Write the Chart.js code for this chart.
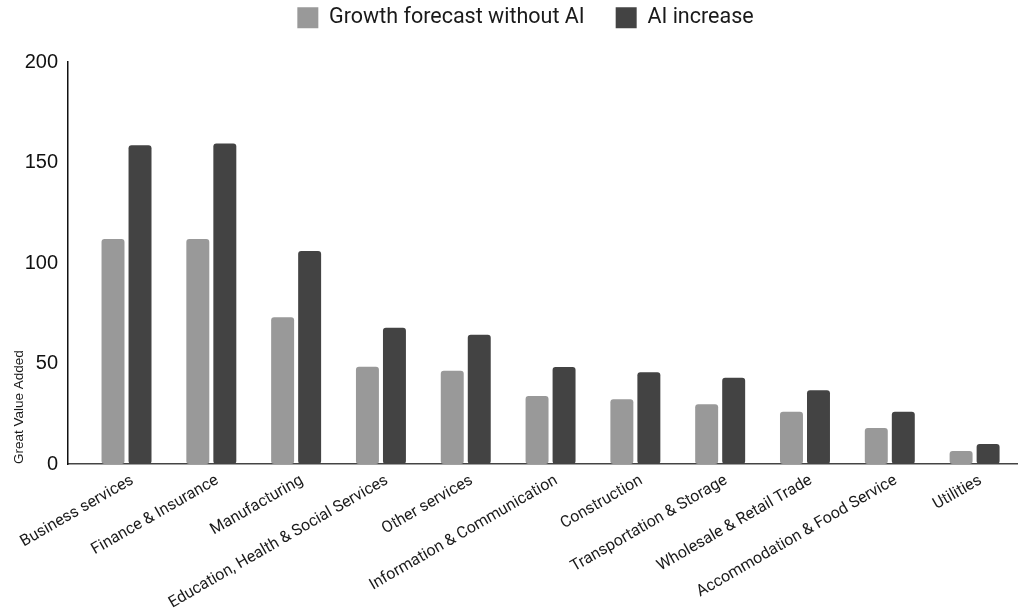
<!DOCTYPE html>
<html>
<head>
<meta charset="utf-8">
<script src="https://cdn.jsdelivr.net/npm/chart.js@4"></script>
<style>
  html, body { margin: 0; padding: 0; background: #ffffff; }
  #wrap { width: 1020px; height: 612px; }
</style>
</head>
<body>
<div id="wrap"><canvas id="chart" width="1020" height="612"></canvas></div>
<script>
// Sectors, in chart order
const categories = [
  'Business services',
  'Finance & Insurance',
  'Manufacturing',
  'Education, Health & Social Services',
  'Other services',
  'Information & Communication',
  'Construction',
  'Transportation & Storage',
  'Wholesale & Retail Trade',
  'Accommodation & Food Service',
  'Utilities'
];

// Gross value added by 2035
const growthWithoutAI = [112, 112, 73, 48.4, 46.4, 33.8, 32.2, 29.7, 26, 17.9, 6.5];
const aiIncrease      = [158.6, 159.4, 106, 67.8, 64.3, 48.3, 45.6, 42.9, 36.7, 26, 10];

const seriesNames = ['Growth forecast without AI', 'AI increase'];
const yTicks = [0, 50, 100, 150, 200];

const toPoints = arr => arr.map((v, i) => ({ x: i, y: v }));

// Legend: wide spacing between items, fixed block height, items near the top edge
const legendLayout = {
  id: 'legendLayout',
  beforeInit(chart) {
    const fit = chart.legend.fit;
    chart.legend.fit = function () {
      fit.call(this);
      this.height = 62;
    };
  },
  afterLayout(chart) {
    chart.legend.top -= 24;
    chart.legend.left += 17;
    chart.legend.right += 17;
  }
};

new Chart(document.getElementById('chart'), {
  type: 'bar',
  data: {
    datasets: [
      {
        label: seriesNames[0],
        data: toPoints(growthWithoutAI),
        backgroundColor: '#999999',
        borderRadius: 3,
        borderSkipped: false
      },
      {
        label: seriesNames[1],
        data: toPoints(aiIncrease),
        backgroundColor: '#434343',
        borderRadius: 3,
        borderSkipped: false
      }
    ]
  },
  plugins: [legendLayout],
  options: {
    responsive: false,
    animation: false,
    devicePixelRatio: 1,
    layout: { padding: { left: 0, right: 3, top: 0, bottom: 0 } },
    datasets: {
      bar: { categoryPercentage: 0.637, barPercentage: 0.85 }
    },
    plugins: {
      tooltip: { enabled: false },
      legend: {
        position: 'top',
        align: 'center',
        labels: {
          boxWidth: 21,
          boxHeight: 21,
          padding: 31,
          color: '#1a1a1a',
          font: { family: 'Roboto, "Liberation Sans", sans-serif', size: 21.5 }
        }
      }
    },
    scales: {
      x: {
        type: 'linear',
        min: -0.69,
        max: 10.5,
        offset: false,
        grid: { display: false, drawTicks: false },
        border: { display: true, color: '#444444', width: 1.5 },
        afterBuildTicks: scale => {
          scale.ticks = categories.map((_, i) => ({ value: i + 0.07 }));
        },
        afterFit: scale => { scale.height = 148; },
        ticks: {
          autoSkip: false,
          minRotation: 30,
          maxRotation: 30,
          padding: 7,
          color: '#1a1a1a',
          font: { family: 'Roboto, "Liberation Sans", sans-serif', size: 16 },
          callback: v => categories[Math.round(v)]
        }
      },
      y: {
        min: 0,
        max: 200,
        grid: { display: false, drawTicks: false },
        border: { display: true, color: '#111111', width: 1.5 },
        afterBuildTicks: scale => {
          scale.ticks = yTicks.map(v => ({ value: v }));
        },
        afterFit: scale => { scale.width = 68; },
        ticks: {
          padding: 10,
          color: '#111111',
          font: { family: '"Liberation Sans", Arial, sans-serif', size: 20 }
        },
        title: {
          display: true,
          text: 'Great Value Added',
          align: 'start',
          color: '#1a1a1a',
          padding: { top: 11, bottom: 0 },
          font: { family: '"Liberation Sans", Arial, sans-serif', size: 13.5 }
        }
      }
    }
  }
});
</script>
</body>
</html>
